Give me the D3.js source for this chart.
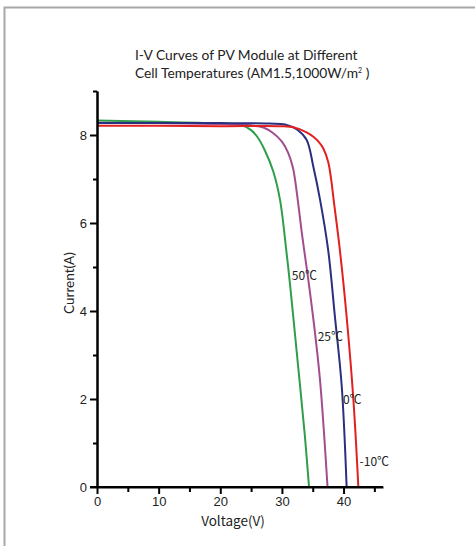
<!DOCTYPE html>
<html>
<head>
<meta charset="utf-8">
<script src="https://cdn.jsdelivr.net/npm/d3@7"></script>
<style>
  body { margin: 0; background: #fff; }
</style>
</head>
<body>
<script>
// series names and read-off points (Voltage V, Current A)
const names = ['50℃', '25℃', '0℃', '-10℃'];
const colors = ['#2f9e4b', '#a24d8e', '#2b2f7f', '#e2201f'];

const v50 = [0, 10, 20, 23.5, 25, 26, 27.2, 28.6, 29.7, 30.7, 31.3, 32.1, 32.9, 33.7, 34.4];
const i50 = [8.33, 8.30, 8.26, 8.22, 8.11, 7.96, 7.66, 7.17, 6.52, 5.39, 4.63, 3.5, 2.36, 1.2, 0];

const v25 = [0, 10, 20, 25, 27, 28.5, 30, 31, 31.8, 32.5, 33.3, 34.2, 35.2, 36.2, 37.4];
const i25 = [8.28, 8.27, 8.25, 8.22, 8.17, 8.05, 7.85, 7.6, 7.25, 6.6, 5.7, 4.8, 3.7, 2.4, 0];

const v0 = [0, 10, 20, 28, 30.5, 32.5, 34, 35.1, 36.2, 37.5, 38.6, 39.7, 40.5];
const i0 = [8.27, 8.27, 8.27, 8.26, 8.24, 8.12, 7.89, 7.28, 6.52, 5.39, 3.87, 2.3, 0];

const vm10 = [0, 10, 20, 30, 32, 34, 35.1, 36, 36.7, 37.5, 38, 38.4, 39.4, 40.5, 41.6, 42.4];
const im10 = [8.21, 8.21, 8.2, 8.2, 8.17, 8.06, 7.96, 7.84, 7.70, 7.39, 6.98, 6.52, 5.39, 3.87, 1.98, 0];

// where the temperature labels sit (V, A)
const labelV = [31.6, 35.8, 39.9, 42.6];
const labelI = [4.8, 3.41, 1.98, 0.57];

const xMajor = [0, 10, 20, 30, 40];
const xMinor = [5, 15, 25, 35, 45];
const yMajor = [0, 2, 4, 6, 8];
const yMinor = [1, 3, 5, 7, 9];

const svg = d3.select('body')
  .append('svg')
    .attr('width', 475)
    .attr('height', 546);

// frame
svg.append('rect')
  .attr('x', 4.5).attr('y', 7.5)
  .attr('width', 500).attr('height', 560)
  .attr('fill', 'none')
  .attr('stroke', '#a8a8a8')
  .attr('stroke-width', 2);

const x = d3.scaleLinear().domain([0, 46.4]).range([97, 383]);
const y = d3.scaleLinear().domain([0, 9]).range([487, 91]);

// title
const title = svg.append('text')
  .attr('font-family', 'Lato, "Open Sans", sans-serif')
  .attr('font-size', 13.8)
  .attr('fill', '#222');
title.append('tspan').attr('x', 135).attr('y', 60).text('I-V Curves of PV Module at Different');
const t2 = title.append('tspan').attr('x', 135).attr('y', 78).text('Cell Temperatures (AM1.5,1000W/m');
t2.append('tspan').attr('font-size', 7).attr('dy', -5).text('2');
t2.append('tspan').attr('dy', 5).text(' )');

// curves
const series = [
  d3.zip(v50, i50),
  d3.zip(v25, i25),
  d3.zip(v0, i0),
  d3.zip(vm10, im10)
];

const line = d3.line()
  .x(d => x(d[0]))
  .y(d => y(d[1]))
  .curve(d3.curveCatmullRom.alpha(0.5));

svg.append('g').selectAll('path')
  .data(series)
  .enter().append('path')
    .attr('d', line)
    .attr('fill', 'none')
    .attr('stroke', (d, i) => colors[i])
    .attr('stroke-width', 2);

// axes
const axisFont = 'Liberation Sans, Arial, sans-serif';

const gx = svg.append('g').attr('transform', 'translate(0,' + y(0) + ')');
gx.call(d3.axisBottom(x).tickValues(xMajor).tickSize(7).tickPadding(3).tickSizeOuter(0).tickFormat(d3.format('d')));
gx.append('g').call(d3.axisBottom(x).tickValues(xMinor).tickSize(5).tickSizeOuter(0).tickFormat(''));

const gy = svg.append('g').attr('transform', 'translate(' + x(0) + ',0)');
gy.call(d3.axisLeft(y).tickValues(yMajor).tickSize(7).tickSizeOuter(0).tickFormat(d3.format('d')));
gy.append('g').call(d3.axisLeft(y).tickValues(yMinor).tickSize(4).tickSizeOuter(0).tickFormat(''));

svg.selectAll('.domain').attr('stroke', '#000').attr('stroke-width', 2);
svg.selectAll('.tick line').attr('stroke', '#000').attr('stroke-width', 2);
svg.selectAll('.tick text')
  .attr('font-family', axisFont)
  .attr('font-size', 13)
  .attr('fill', '#222');

// x axis line runs a bit left to meet the 0 tick
gx.select('.domain').attr('d', 'M' + (x(0) - 7) + ',0H' + x.range()[1]);

// axis titles
svg.append('text')
  .attr('x', 233).attr('y', 526)
  .attr('text-anchor', 'middle')
  .attr('font-family', '"Noto Sans CJK SC", sans-serif')
  .attr('font-size', 13.5)
  .attr('fill', '#222')
  .text('Voltage(V)');

svg.append('text')
  .attr('transform', 'translate(74,283) rotate(-90)')
  .attr('text-anchor', 'middle')
  .attr('font-family', 'Lato, "Open Sans", sans-serif')
  .attr('font-size', 13.5)
  .attr('fill', '#222')
  .text('Current(A)');

// temperature labels
svg.append('g').selectAll('text')
  .data(names)
  .enter().append('text')
    .attr('x', (d, i) => x(labelV[i]))
    .attr('y', (d, i) => y(labelI[i]))
    .attr('dy', '0.35em')
    .attr('font-family', '"Noto Sans CJK SC", sans-serif')
    .attr('font-size', 12)
    .attr('fill', '#222')
    .text(d => d);
</script>
</body>
</html>
